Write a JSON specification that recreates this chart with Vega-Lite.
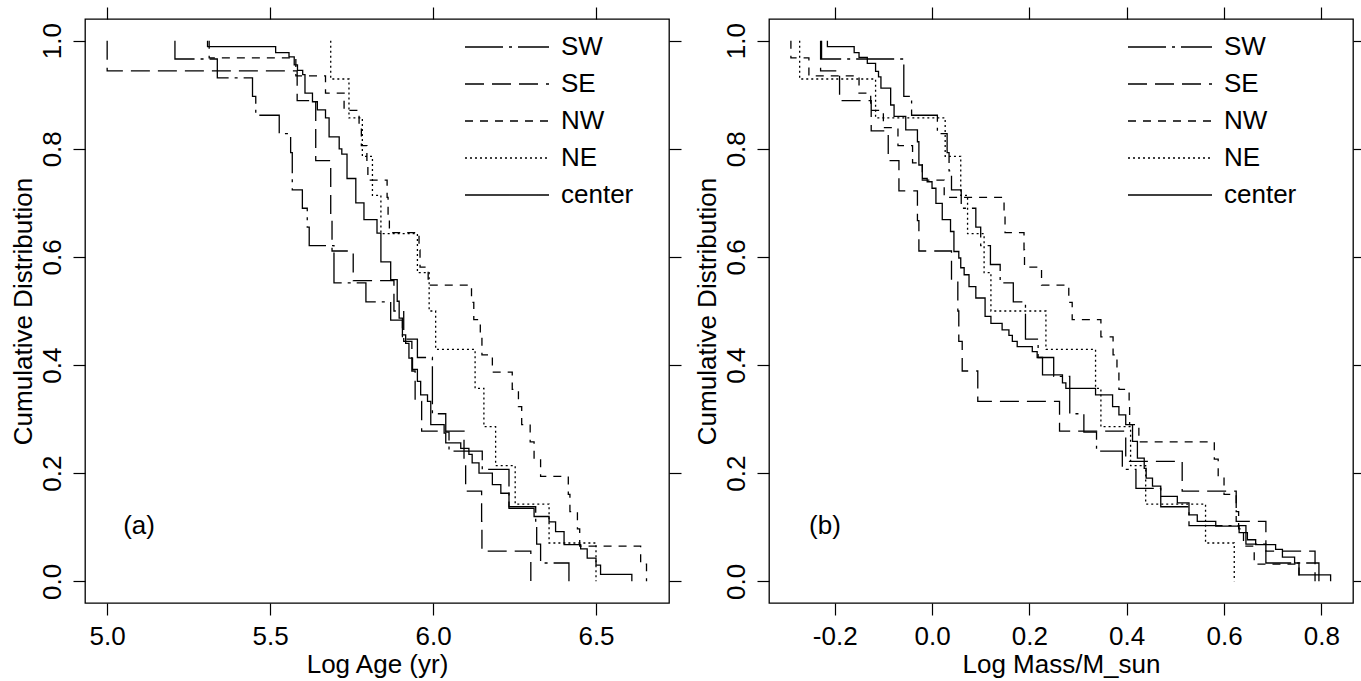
{
  "$schema": "https://vega.github.io/schema/vega-lite/v6.json",
  "background": "white",
  "padding": {"left": 9, "top": 5, "right": 5, "bottom": 0},
  "bounds": "flush",
  "spacing": 100,
  "config": {
    "font": "Liberation Sans",
    "view": {"stroke": "black", "strokeWidth": 1.3},
    "axis": {"grid": false, "domain": false, "tickColor": "black", "tickSize": 12, "tickWidth": 1.2, "labelFontSize": 26, "labelColor": "black", "titleFontSize": 26, "titleFontWeight": "normal", "titleColor": "black"},
    "legend": {"orient": "none", "title": null, "symbolType": "stroke", "symbolSize": 7056, "clipHeight": 24, "symbolStrokeWidth": 1.3, "symbolStrokeColor": "black", "labelFontSize": 26, "labelColor": "black", "labelOffset": 11, "rowPadding": 11, "padding": 0}
  },
  "resolve": {"legend": {"strokeDash": "independent"}},
  "datasets": {
    "a": [
      {"g":"SW","x":5.208,"y":1},{"g":"SW","x":5.208,"y":0.966},{"g":"SW","x":5.338,"y":0.931},{"g":"SW","x":5.446,"y":0.897},{"g":"SW","x":5.456,"y":0.862},{"g":"SW","x":5.528,"y":0.828},{"g":"SW","x":5.563,"y":0.793},{"g":"SW","x":5.568,"y":0.759},{"g":"SW","x":5.568,"y":0.724},{"g":"SW","x":5.599,"y":0.69},{"g":"SW","x":5.614,"y":0.655},{"g":"SW","x":5.62,"y":0.621},{"g":"SW","x":5.696,"y":0.586},{"g":"SW","x":5.696,"y":0.552},{"g":"SW","x":5.794,"y":0.517},{"g":"SW","x":5.87,"y":0.483},{"g":"SW","x":5.906,"y":0.448},{"g":"SW","x":5.952,"y":0.414},{"g":"SW","x":5.998,"y":0.379},{"g":"SW","x":5.998,"y":0.345},{"g":"SW","x":5.998,"y":0.31},{"g":"SW","x":6.039,"y":0.276},{"g":"SW","x":6.049,"y":0.241},{"g":"SW","x":6.151,"y":0.207},{"g":"SW","x":6.233,"y":0.172},{"g":"SW","x":6.233,"y":0.138},{"g":"SW","x":6.315,"y":0.103},{"g":"SW","x":6.318,"y":0.069},{"g":"SW","x":6.33,"y":0.034},{"g":"SW","x":6.417,"y":0},
      {"g":"SE","x":5.0,"y":1},{"g":"SE","x":5.0,"y":0.944},{"g":"SE","x":5.583,"y":0.889},{"g":"SE","x":5.64,"y":0.833},{"g":"SE","x":5.64,"y":0.778},{"g":"SE","x":5.686,"y":0.722},{"g":"SE","x":5.686,"y":0.667},{"g":"SE","x":5.69,"y":0.611},{"g":"SE","x":5.755,"y":0.556},{"g":"SE","x":5.88,"y":0.5},{"g":"SE","x":5.91,"y":0.444},{"g":"SE","x":5.935,"y":0.389},{"g":"SE","x":5.945,"y":0.333},{"g":"SE","x":5.965,"y":0.278},{"g":"SE","x":6.095,"y":0.222},{"g":"SE","x":6.1,"y":0.167},{"g":"SE","x":6.149,"y":0.111},{"g":"SE","x":6.15,"y":0.056},{"g":"SE","x":6.3,"y":0},
      {"g":"NW","x":5.313,"y":1},{"g":"NW","x":5.313,"y":0.968},{"g":"NW","x":5.579,"y":0.935},{"g":"NW","x":5.67,"y":0.903},{"g":"NW","x":5.727,"y":0.871},{"g":"NW","x":5.773,"y":0.839},{"g":"NW","x":5.78,"y":0.806},{"g":"NW","x":5.797,"y":0.774},{"g":"NW","x":5.8,"y":0.742},{"g":"NW","x":5.859,"y":0.71},{"g":"NW","x":5.862,"y":0.677},{"g":"NW","x":5.866,"y":0.645},{"g":"NW","x":5.957,"y":0.613},{"g":"NW","x":5.96,"y":0.581},{"g":"NW","x":5.985,"y":0.548},{"g":"NW","x":6.118,"y":0.516},{"g":"NW","x":6.125,"y":0.484},{"g":"NW","x":6.145,"y":0.452},{"g":"NW","x":6.15,"y":0.419},{"g":"NW","x":6.182,"y":0.387},{"g":"NW","x":6.243,"y":0.355},{"g":"NW","x":6.262,"y":0.323},{"g":"NW","x":6.272,"y":0.29},{"g":"NW","x":6.298,"y":0.258},{"g":"NW","x":6.31,"y":0.226},{"g":"NW","x":6.33,"y":0.194},{"g":"NW","x":6.415,"y":0.161},{"g":"NW","x":6.42,"y":0.129},{"g":"NW","x":6.443,"y":0.097},{"g":"NW","x":6.45,"y":0.065},{"g":"NW","x":6.637,"y":0.032},{"g":"NW","x":6.655,"y":0},
      {"g":"NE","x":5.686,"y":1},{"g":"NE","x":5.686,"y":0.929},{"g":"NE","x":5.742,"y":0.857},{"g":"NE","x":5.783,"y":0.786},{"g":"NE","x":5.814,"y":0.714},{"g":"NE","x":5.84,"y":0.643},{"g":"NE","x":5.952,"y":0.571},{"g":"NE","x":5.988,"y":0.5},{"g":"NE","x":6.008,"y":0.429},{"g":"NE","x":6.129,"y":0.357},{"g":"NE","x":6.156,"y":0.286},{"g":"NE","x":6.192,"y":0.214},{"g":"NE","x":6.252,"y":0.143},{"g":"NE","x":6.356,"y":0.071},{"g":"NE","x":6.5,"y":0},
      {"g":"center","x":5.308,"y":1},{"g":"center","x":5.308,"y":0.989},{"g":"center","x":5.517,"y":0.978},{"g":"center","x":5.558,"y":0.97},{"g":"center","x":5.574,"y":0.955},{"g":"center","x":5.584,"y":0.945},{"g":"center","x":5.6,"y":0.937},{"g":"center","x":5.607,"y":0.903},{"g":"center","x":5.63,"y":0.887},{"g":"center","x":5.645,"y":0.872},{"g":"center","x":5.67,"y":0.857},{"g":"center","x":5.681,"y":0.822},{"g":"center","x":5.712,"y":0.8},{"g":"center","x":5.72,"y":0.79},{"g":"center","x":5.736,"y":0.745},{"g":"center","x":5.763,"y":0.7},{"g":"center","x":5.788,"y":0.669},{"g":"center","x":5.828,"y":0.644},{"g":"center","x":5.84,"y":0.591},{"g":"center","x":5.87,"y":0.558},{"g":"center","x":5.89,"y":0.518},{"g":"center","x":5.896,"y":0.487},{"g":"center","x":5.906,"y":0.456},{"g":"center","x":5.916,"y":0.44},{"g":"center","x":5.926,"y":0.413},{"g":"center","x":5.937,"y":0.392},{"g":"center","x":5.952,"y":0.37},{"g":"center","x":5.962,"y":0.345},{"g":"center","x":5.983,"y":0.333},{"g":"center","x":5.993,"y":0.29},{"g":"center","x":6.034,"y":0.274},{"g":"center","x":6.039,"y":0.256},{"g":"center","x":6.085,"y":0.246},{"g":"center","x":6.11,"y":0.235},{"g":"center","x":6.12,"y":0.219},{"g":"center","x":6.141,"y":0.2},{"g":"center","x":6.182,"y":0.179},{"g":"center","x":6.208,"y":0.163},{"g":"center","x":6.233,"y":0.135},{"g":"center","x":6.31,"y":0.12},{"g":"center","x":6.356,"y":0.11},{"g":"center","x":6.376,"y":0.092},{"g":"center","x":6.402,"y":0.068},{"g":"center","x":6.453,"y":0.06},{"g":"center","x":6.473,"y":0.043},{"g":"center","x":6.5,"y":0.03},{"g":"center","x":6.514,"y":0.013},{"g":"center","x":6.61,"y":0}
    ],
    "b": [
      {"g":"SW","x":-0.227,"y":1},{"g":"SW","x":-0.227,"y":0.966},{"g":"SW","x":-0.058,"y":0.931},{"g":"SW","x":-0.058,"y":0.897},{"g":"SW","x":-0.042,"y":0.862},{"g":"SW","x":0.011,"y":0.828},{"g":"SW","x":0.031,"y":0.793},{"g":"SW","x":0.035,"y":0.759},{"g":"SW","x":0.04,"y":0.724},{"g":"SW","x":0.06,"y":0.69},{"g":"SW","x":0.09,"y":0.655},{"g":"SW","x":0.1,"y":0.621},{"g":"SW","x":0.12,"y":0.586},{"g":"SW","x":0.14,"y":0.552},{"g":"SW","x":0.167,"y":0.517},{"g":"SW","x":0.192,"y":0.483},{"g":"SW","x":0.192,"y":0.448},{"g":"SW","x":0.218,"y":0.414},{"g":"SW","x":0.25,"y":0.379},{"g":"SW","x":0.283,"y":0.345},{"g":"SW","x":0.283,"y":0.31},{"g":"SW","x":0.312,"y":0.276},{"g":"SW","x":0.338,"y":0.241},{"g":"SW","x":0.391,"y":0.207},{"g":"SW","x":0.419,"y":0.172},{"g":"SW","x":0.47,"y":0.138},{"g":"SW","x":0.528,"y":0.103},{"g":"SW","x":0.645,"y":0.069},{"g":"SW","x":0.686,"y":0.034},{"g":"SW","x":0.795,"y":0},
      {"g":"SE","x":-0.229,"y":1},{"g":"SE","x":-0.229,"y":0.944},{"g":"SE","x":-0.19,"y":0.889},{"g":"SE","x":-0.125,"y":0.833},{"g":"SE","x":-0.09,"y":0.778},{"g":"SE","x":-0.068,"y":0.722},{"g":"SE","x":-0.03,"y":0.667},{"g":"SE","x":-0.027,"y":0.611},{"g":"SE","x":0.04,"y":0.556},{"g":"SE","x":0.053,"y":0.5},{"g":"SE","x":0.055,"y":0.444},{"g":"SE","x":0.062,"y":0.389},{"g":"SE","x":0.094,"y":0.333},{"g":"SE","x":0.262,"y":0.278},{"g":"SE","x":0.398,"y":0.222},{"g":"SE","x":0.514,"y":0.167},{"g":"SE","x":0.625,"y":0.111},{"g":"SE","x":0.686,"y":0.056},{"g":"SE","x":0.787,"y":0},
      {"g":"NW","x":-0.29,"y":1},{"g":"NW","x":-0.29,"y":0.968},{"g":"NW","x":-0.253,"y":0.935},{"g":"NW","x":-0.15,"y":0.903},{"g":"NW","x":-0.126,"y":0.871},{"g":"NW","x":-0.1,"y":0.839},{"g":"NW","x":-0.07,"y":0.806},{"g":"NW","x":-0.04,"y":0.774},{"g":"NW","x":-0.02,"y":0.742},{"g":"NW","x":0.025,"y":0.71},{"g":"NW","x":0.148,"y":0.677},{"g":"NW","x":0.15,"y":0.645},{"g":"NW","x":0.189,"y":0.613},{"g":"NW","x":0.19,"y":0.581},{"g":"NW","x":0.225,"y":0.548},{"g":"NW","x":0.281,"y":0.516},{"g":"NW","x":0.288,"y":0.484},{"g":"NW","x":0.347,"y":0.452},{"g":"NW","x":0.372,"y":0.419},{"g":"NW","x":0.38,"y":0.387},{"g":"NW","x":0.384,"y":0.355},{"g":"NW","x":0.405,"y":0.323},{"g":"NW","x":0.406,"y":0.29},{"g":"NW","x":0.425,"y":0.258},{"g":"NW","x":0.58,"y":0.226},{"g":"NW","x":0.588,"y":0.194},{"g":"NW","x":0.6,"y":0.161},{"g":"NW","x":0.625,"y":0.129},{"g":"NW","x":0.63,"y":0.097},{"g":"NW","x":0.64,"y":0.065},{"g":"NW","x":0.662,"y":0.032},{"g":"NW","x":0.754,"y":0},
      {"g":"NE","x":-0.272,"y":1},{"g":"NE","x":-0.272,"y":0.929},{"g":"NE","x":-0.116,"y":0.857},{"g":"NE","x":0.027,"y":0.786},{"g":"NE","x":0.059,"y":0.714},{"g":"NE","x":0.073,"y":0.643},{"g":"NE","x":0.107,"y":0.571},{"g":"NE","x":0.121,"y":0.5},{"g":"NE","x":0.234,"y":0.429},{"g":"NE","x":0.336,"y":0.357},{"g":"NE","x":0.347,"y":0.286},{"g":"NE","x":0.408,"y":0.214},{"g":"NE","x":0.439,"y":0.143},{"g":"NE","x":0.562,"y":0.071},{"g":"NE","x":0.621,"y":0},
      {"g":"center","x":-0.215,"y":1},{"g":"center","x":-0.215,"y":0.989},{"g":"center","x":-0.16,"y":0.978},{"g":"center","x":-0.15,"y":0.969},{"g":"center","x":-0.133,"y":0.958},{"g":"center","x":-0.116,"y":0.943},{"g":"center","x":-0.11,"y":0.933},{"g":"center","x":-0.105,"y":0.912},{"g":"center","x":-0.085,"y":0.881},{"g":"center","x":-0.078,"y":0.86},{"g":"center","x":-0.054,"y":0.835},{"g":"center","x":-0.03,"y":0.813},{"g":"center","x":-0.027,"y":0.77},{"g":"center","x":-0.02,"y":0.745},{"g":"center","x":-0.01,"y":0.739},{"g":"center","x":0.0,"y":0.727},{"g":"center","x":0.008,"y":0.699},{"g":"center","x":0.021,"y":0.669},{"g":"center","x":0.038,"y":0.647},{"g":"center","x":0.045,"y":0.61},{"g":"center","x":0.055,"y":0.598},{"g":"center","x":0.059,"y":0.58},{"g":"center","x":0.066,"y":0.567},{"g":"center","x":0.076,"y":0.545},{"g":"center","x":0.09,"y":0.524},{"g":"center","x":0.109,"y":0.49},{"g":"center","x":0.121,"y":0.477},{"g":"center","x":0.144,"y":0.465},{"g":"center","x":0.158,"y":0.455},{"g":"center","x":0.165,"y":0.444},{"g":"center","x":0.175,"y":0.434},{"g":"center","x":0.206,"y":0.425},{"g":"center","x":0.216,"y":0.414},{"g":"center","x":0.227,"y":0.382},{"g":"center","x":0.268,"y":0.367},{"g":"center","x":0.275,"y":0.357},{"g":"center","x":0.336,"y":0.345},{"g":"center","x":0.371,"y":0.323},{"g":"center","x":0.384,"y":0.308},{"g":"center","x":0.398,"y":0.29},{"g":"center","x":0.412,"y":0.259},{"g":"center","x":0.422,"y":0.228},{"g":"center","x":0.436,"y":0.209},{"g":"center","x":0.44,"y":0.191},{"g":"center","x":0.453,"y":0.176},{"g":"center","x":0.47,"y":0.157},{"g":"center","x":0.504,"y":0.145},{"g":"center","x":0.528,"y":0.123},{"g":"center","x":0.545,"y":0.111},{"g":"center","x":0.583,"y":0.102},{"g":"center","x":0.631,"y":0.09},{"g":"center","x":0.648,"y":0.077},{"g":"center","x":0.665,"y":0.068},{"g":"center","x":0.706,"y":0.059},{"g":"center","x":0.72,"y":0.045},{"g":"center","x":0.745,"y":0.034},{"g":"center","x":0.754,"y":0.012},{"g":"center","x":0.819,"y":0}
    ]
  },
  "hconcat": [
    {
      "width": 584, "height": 584,
      "resolve": {"axis": {"x": "independent", "y": "independent"}},
      "layer": [
        {
          "data": {"name": "a"},
          "mark": {"type": "line", "interpolate": "step-after", "color": "black", "strokeWidth": 1.3},
          "encoding": {
            "x": {"field": "x", "type": "quantitative", "scale": {"domain": [4.932, 6.724], "nice": false, "zero": false}, "axis": {"orient": "bottom", "values": [5, 5.5, 6, 6.5], "format": ".1f", "title": "Log Age (yr)", "labelPadding": 8, "titlePadding": 2}},
            "y": {"field": "y", "type": "quantitative", "scale": {"domain": [-0.04, 1.04], "nice": false, "zero": false}, "axis": {"orient": "left", "values": [0, 0.2, 0.4, 0.6, 0.8, 1], "format": ".1f", "labelAngle": -90, "labelPadding": 8, "title": "Cumulative Distribution", "titlePadding": 3}},
            "strokeDash": {"field": "g", "type": "nominal", "scale": {"domain": ["SW", "SE", "NW", "NE", "center"], "range": [[38, 6, 3, 6], [19, 8], [8, 7], [2, 3], [1, 0]]}, "legend": {"legendX": 379, "legendY": 16}},
            "order": {"field": "y", "type": "quantitative", "sort": "descending"}
          }
        },
        {
          "data": {"values": [{"x": 5.098, "y": 0.102, "t": "(a)"}]},
          "mark": {"type": "text", "fontSize": 26, "align": "center", "baseline": "middle", "color": "black"},
          "encoding": {
            "x": {"field": "x", "type": "quantitative", "scale": {"domain": [4.932, 6.724], "nice": false, "zero": false}, "axis": {"orient": "top", "values": [5, 5.5, 6, 6.5], "labels": false, "title": null}},
            "y": {"field": "y", "type": "quantitative", "scale": {"domain": [-0.04, 1.04], "nice": false, "zero": false}, "axis": {"orient": "right", "values": [0, 0.2, 0.4, 0.6, 0.8, 1], "labels": false, "title": null}},
            "text": {"field": "t"}
          }
        }
      ]
    },
    {
      "width": 584, "height": 584,
      "resolve": {"axis": {"x": "independent", "y": "independent"}},
      "layer": [
        {
          "data": {"name": "b"},
          "mark": {"type": "line", "interpolate": "step-after", "color": "black", "strokeWidth": 1.3},
          "encoding": {
            "x": {"field": "x", "type": "quantitative", "scale": {"domain": [-0.335, 0.865], "nice": false, "zero": false}, "axis": {"orient": "bottom", "values": [-0.2, 0, 0.2, 0.4, 0.6, 0.8], "labelExpr": "replace(format(datum.value, '.1f'), '\u2212', '-')", "title": "Log Mass/M_sun", "labelPadding": 8, "titlePadding": 2}},
            "y": {"field": "y", "type": "quantitative", "scale": {"domain": [-0.04, 1.04], "nice": false, "zero": false}, "axis": {"orient": "left", "values": [0, 0.2, 0.4, 0.6, 0.8, 1], "format": ".1f", "labelAngle": -90, "labelPadding": 8, "title": "Cumulative Distribution", "titlePadding": 3}},
            "strokeDash": {"field": "g", "type": "nominal", "scale": {"domain": ["SW", "SE", "NW", "NE", "center"], "range": [[38, 6, 3, 6], [19, 8], [8, 7], [2, 3], [1, 0]]}, "legend": {"legendX": 358, "legendY": 16}},
            "order": {"field": "y", "type": "quantitative", "sort": "descending"}
          }
        },
        {
          "data": {"values": [{"x": -0.22, "y": 0.102, "t": "(b)"}]},
          "mark": {"type": "text", "fontSize": 26, "align": "center", "baseline": "middle", "color": "black"},
          "encoding": {
            "x": {"field": "x", "type": "quantitative", "scale": {"domain": [-0.335, 0.865], "nice": false, "zero": false}, "axis": {"orient": "top", "values": [-0.2, 0, 0.2, 0.4, 0.6, 0.8], "labels": false, "title": null}},
            "y": {"field": "y", "type": "quantitative", "scale": {"domain": [-0.04, 1.04], "nice": false, "zero": false}, "axis": {"orient": "right", "values": [0, 0.2, 0.4, 0.6, 0.8, 1], "labels": false, "title": null}},
            "text": {"field": "t"}
          }
        }
      ]
    }
  ]
}
